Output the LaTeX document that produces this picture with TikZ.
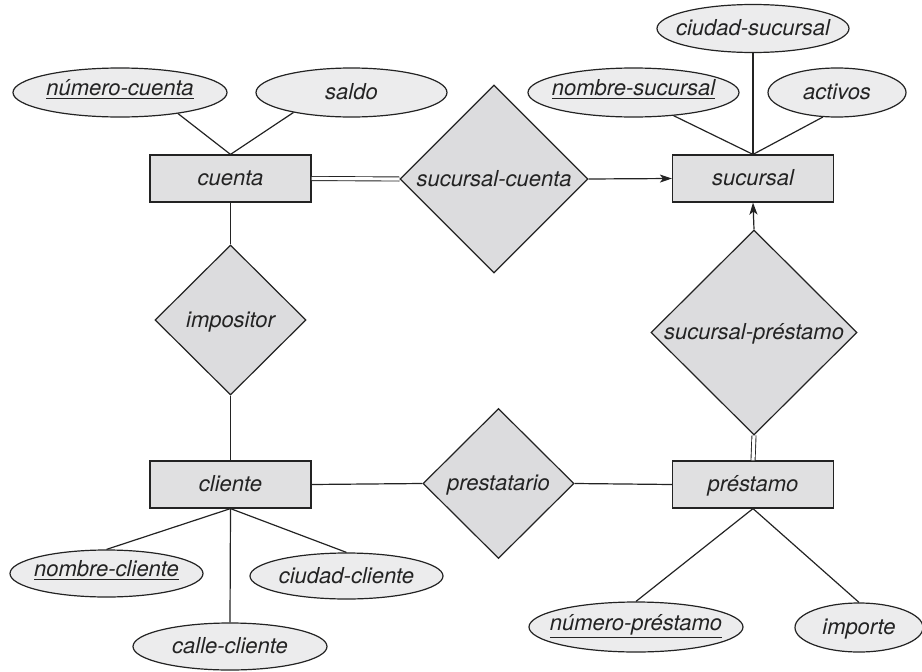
\documentclass[tikz,border=0pt]{standalone}
\usepackage{fontspec}
\setmainfont{TeX Gyre Heros}
\usetikzlibrary{shapes.geometric,arrows.meta}

\definecolor{inkc}{RGB}{35,35,35}
\definecolor{entfill}{RGB}{224,224,225}
\definecolor{relfill}{RGB}{220,220,222}
\definecolor{attfill}{RGB}{236,236,237}

% key attribute: text with a rule below it
\newcommand\keyattr[1]{\setbox0\hbox{#1}\leavevmode\rlap{\usebox0}%
  \raisebox{-\dimexpr\dp0+3.5pt\relax}{\rule{\wd0}{1.3pt}}}

\tikzset{
  ent/.style={rectangle, draw=inkc, fill=entfill, line width=1.2pt,
    inner sep=0pt, minimum width=161pt, minimum height=47pt},
  rel/.style={diamond, draw=inkc, fill=relfill, line width=1.2pt, inner sep=0pt},
  att/.style={ellipse, draw=inkc, fill=attfill, line width=1.2pt, inner sep=0pt},
  link/.style={draw=inkc, line width=1.2pt},
  total/.style={draw=inkc, line width=0.9pt, double=white, double distance=3.2pt},
  toone/.style={draw=inkc, line width=1.2pt, -{Stealth[length=12pt,width=8pt,inset=3pt]}},
  keyl/.style={yshift=4pt},
  every label/.append style={inner sep=0pt, text height=14pt, text depth=0pt, text=inkc}
}

\begin{document}
\begin{tikzpicture}[x=1pt, y=-1pt, font=\fontsize{22}{26}\selectfont\itshape]
\useasboundingbox (0,0) rectangle (922,672);

% entity sets
\node[ent, label=center:cuenta]   (cuenta)   at (230.5,178.5) {};
\node[ent, label=center:sucursal] (sucursal) at (753,178.5)   {};
\node[ent, label=center:cliente]  (cliente)  at (230.5,484.5) {};
\node[ent, label=center:préstamo] (prestamo) at (753,484.5)   {};

% relationship sets
\node[rel, minimum width=188pt, minimum height=188pt, label=center:sucursal-cuenta] (sc) at (494,179) {};
\node[rel, minimum width=151pt, minimum height=150pt, label=center:impositor] (impositor) at (230.5,320) {};
\node[rel, minimum width=206pt, minimum height=205pt, label=center:sucursal-préstamo] (sp) at (754,332.5) {};
\node[rel, minimum width=151pt, minimum height=150pt, label=center:prestatario] (prestatario) at (498.5,483.5) {};

% attributes
\node[att, minimum width=214pt, minimum height=49pt, label={[keyl]center:\keyattr{número-cuenta}}] (ncuenta) at (120,92.5) {};
\node[att, minimum width=191pt, minimum height=49pt, label=center:saldo] (saldo) at (351.5,92.5) {};
\node[att, minimum width=192pt, minimum height=48pt, label=center:ciudad-sucursal] (csuc) at (753,28.5) {};
\node[att, minimum width=211pt, minimum height=49pt, label={[keyl]center:\keyattr{nombre-sucursal}}] (nsuc) at (633.5,92.5) {};
\node[att, minimum width=138pt, minimum height=49pt, label=center:activos] (activos) at (837,92.5) {};
\node[att, minimum width=193pt, minimum height=47pt, label={[keyl]center:\keyattr{nombre-cliente}}] (ncli) at (106.5,573.5) {};
\node[att, minimum width=193pt, minimum height=46pt, label=center:ciudad-cliente] (ccli) at (346.5,576) {};
\node[att, minimum width=194pt, minimum height=47pt, label=center:calle-cliente] (calle) at (230,646.5) {};
\node[att, minimum width=214pt, minimum height=50pt, label={[keyl]center:\keyattr{número-préstamo}}] (nprest) at (636,627) {};
\node[att, minimum width=128pt, minimum height=49pt, label=center:importe] (importe) at (859,627.5) {};

% attribute links
\draw[link] (ncuenta.-20) -- (cuenta.north);
\draw[link] (saldo.-161) -- (cuenta.north);
\draw[link] (nsuc.-30) -- (sucursal.north);
\draw[link] (csuc) -- (sucursal.north);
\draw[link] (activos.-120) -- (sucursal.north);
\draw[link] (cliente.south) -- (ncli.north);
\draw[link] (cliente.south) -- (ccli.north);
\draw[link] (cliente.south) -- (calle.north);
\draw[link] (prestamo.south) -- (nprest.north);
\draw[link] (prestamo.south) -- (importe.north);

% relationship links
\draw[total] (cuenta.east) -- (sc.west);
\draw[toone] (sc.east) -- (sucursal.west);
\draw[link] (cuenta.south) -- (impositor.north);
\draw[link] (impositor.south) -- (cliente.north);
\draw[link] (cliente.east) -- (prestatario.west);
\draw[link] (prestatario.east) -- (prestamo.west);
\draw[toone] (sp.north) -- (sucursal.south);
\draw[total] (prestamo.north) -- (sp.south);
\end{tikzpicture}
\end{document}
